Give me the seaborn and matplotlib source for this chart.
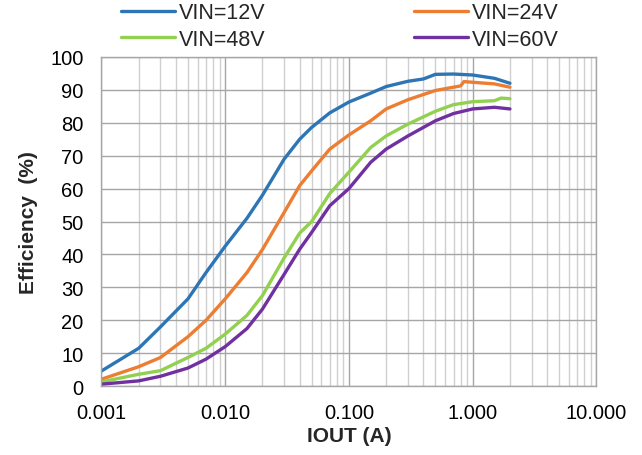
import matplotlib
matplotlib.use("Agg")
import matplotlib.pyplot as plt
import matplotlib.ticker as mticker
import numpy as np
import pandas as pd
import seaborn as sns

# efficiency curves
iout_12 = [0.001, 0.002, 0.003, 0.005, 0.007, 0.01, 0.015, 0.02, 0.03, 0.04, 0.05, 0.07,
           0.1, 0.15, 0.2, 0.3, 0.4, 0.5, 0.7, 1.0, 1.5, 2.0]
eff_12 = [4.6, 11.5, 18.0, 26.5, 34.5, 42.5, 51.0, 58.0, 69.0, 75.0, 78.6, 83.0,
          86.3, 89.0, 91.0, 92.6, 93.3, 94.7, 94.8, 94.5, 93.5, 92.0]

iout_24 = [0.001, 0.002, 0.003, 0.005, 0.007, 0.01, 0.015, 0.02, 0.03, 0.04, 0.05, 0.07,
           0.1, 0.15, 0.2, 0.3, 0.5, 0.8, 0.85, 1.0, 1.5, 2.0]
eff_24 = [2.1, 5.9, 8.7, 15.0, 20.0, 26.5, 34.5, 41.5, 52.8, 60.9, 65.4, 72.0,
          76.3, 80.6, 84.2, 87.0, 89.8, 91.2, 92.5, 92.3, 91.8, 90.8]

iout_48 = [0.001, 0.002, 0.003, 0.005, 0.007, 0.01, 0.015, 0.02, 0.03, 0.04, 0.05, 0.07,
           0.1, 0.15, 0.2, 0.3, 0.5, 0.7, 1.0, 1.5, 1.7, 2.0]
eff_48 = [1.3, 3.6, 4.7, 8.7, 11.5, 15.8, 21.5, 27.5, 39.0, 46.5, 50.0, 58.5,
          65.0, 72.5, 76.0, 79.6, 83.5, 85.5, 86.4, 86.7, 87.5, 87.3]

iout_60 = [0.001, 0.002, 0.003, 0.005, 0.007, 0.01, 0.015, 0.02, 0.03, 0.04, 0.05, 0.07,
           0.1, 0.15, 0.2, 0.3, 0.5, 0.7, 1.0, 1.5, 2.0]
eff_60 = [0.6, 1.6, 3.0, 5.5, 8.2, 12.0, 17.5, 23.4, 34.0, 41.6, 46.7, 54.8,
          60.0, 68.0, 72.0, 76.0, 80.6, 82.8, 84.2, 84.7, 84.2]

labels = ["VIN=12V", "VIN=24V", "VIN=48V", "VIN=60V"]
colors = ["#2E75B6", "#ED7D31", "#92D050", "#7030A0"]

frames = []
for lab, x, y in zip(labels, [iout_12, iout_24, iout_48, iout_60],
                     [eff_12, eff_24, eff_48, eff_60]):
    frames.append(pd.DataFrame({"iout": x, "eff": y, "vin": lab}))
df = pd.concat(frames, ignore_index=True)

sns.set_style("white")
plt.rcParams["font.family"] = ["Liberation Sans", "DejaVu Sans"]

fig = plt.figure(figsize=(6.42, 4.56), dpi=100)
ax = fig.add_axes([0.158, 0.151, 0.771, 0.722])

sns.lineplot(data=df, x="iout", y="eff", hue="vin", hue_order=labels,
             palette=colors, estimator=None, sort=False, lw=2.4, ax=ax, legend=False)

ax.set_xscale("log")
ax.set_xlim(0.001, 10)
ax.set_ylim(0, 100)
ax.set_yticks(np.arange(0, 101, 10))
ax.xaxis.set_major_locator(mticker.LogLocator(base=10))
ax.xaxis.set_minor_locator(mticker.LogLocator(base=10, subs=np.arange(2, 10)))
ax.xaxis.set_major_formatter(mticker.FuncFormatter(lambda v, p: "%.3f" % v))
ax.xaxis.set_minor_formatter(mticker.NullFormatter())

ax.grid(which="major", axis="both", color="#a6a6a6", lw=1.0)
ax.grid(which="minor", axis="x", color="#d0d0d0", lw=1.0)
ax.set_axisbelow(True)
for s in ax.spines.values():
    s.set_color("#a6a6a6")
    s.set_linewidth(1.0)
ax.tick_params(which="both", length=0, labelsize=14.5, colors="#000000")
ax.tick_params(axis="y", pad=13)
ax.tick_params(axis="x", pad=12)

ax.set_xlabel("IOUT (A)", fontsize=15, fontweight="bold", labelpad=3)
ax.set_ylabel("Efficiency  (%)", fontsize=15, fontweight="bold", labelpad=9)

# legend: 12V / 24V on first row, 48V / 60V on second
handles = [plt.Line2D([], [], color=c, lw=2.4) for c in colors]
order = [0, 2, 1, 3]
fig.legend([handles[i] for i in order], [labels[i] for i in order], ncol=2,
           loc="upper left", bbox_to_anchor=(0.188, 0.993), frameon=False,
           borderpad=0, borderaxespad=0, fontsize=15.5, handlelength=2.5,
           handletextpad=0.2, columnspacing=6.9, labelspacing=0.25)

fig.savefig("out.png", dpi=100)
